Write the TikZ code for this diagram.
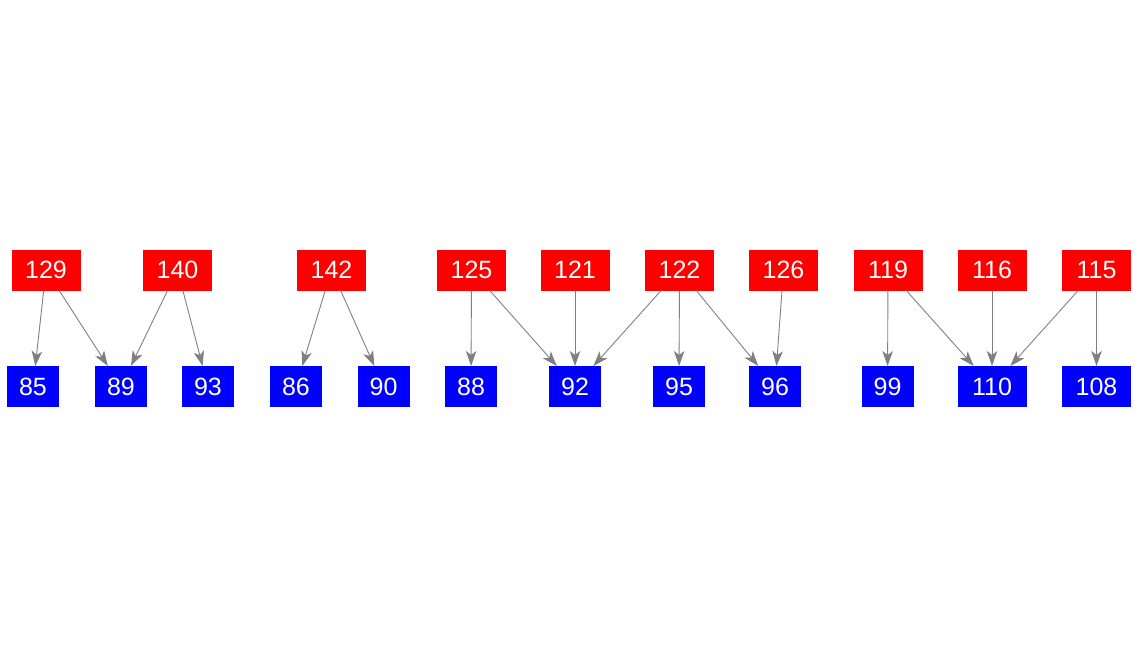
\documentclass[tikz,border=0pt]{standalone}
\usepackage{fontspec}
\setmainfont{Liberation Sans}
\usetikzlibrary{arrows.meta}
\begin{document}
\begin{tikzpicture}[x=1pt,y=-1pt,
  src/.style={fill=red, text=white, minimum width=69pt, minimum height=41pt, inner sep=0pt, outer sep=0pt, font=\fontsize{25}{29}\selectfont},
  dst/.style={fill=blue, text=white, minimum width=52pt, minimum height=41pt, inner sep=0pt, outer sep=0pt, font=\fontsize{25}{29}\selectfont},
  dstw/.style={dst, minimum width=69pt},
  edge/.style={draw=gray, line width=0.9pt, -{Stealth[length=15pt, width=10.5pt, inset=4pt]}}]
\useasboundingbox (0,0) rectangle (1138,656);
% sources
\node[src] (n129) at (46,270) {129};
\node[src] (n140) at (177.5,270) {140};
\node[src] (n142) at (331.5,270) {142};
\node[src] (n125) at (471.5,270) {125};
\node[src] (n121) at (575,270) {121};
\node[src] (n122) at (679.5,270) {122};
\node[src] (n126) at (783.5,270) {126};
\node[src] (n119) at (888,270) {119};
\node[src] (n116) at (992,270) {116};
\node[src] (n115) at (1096.5,270) {115};
% targets
\node[dst] (n85) at (33,386.5) {85};
\node[dst] (n89) at (121,386.5) {89};
\node[dst] (n93) at (208,386.5) {93};
\node[dst] (n86) at (296,386.5) {86};
\node[dst] (n90) at (383.5,386.5) {90};
\node[dst] (n88) at (471,386.5) {88};
\node[dst] (n92) at (575,386.5) {92};
\node[dst] (n95) at (679,386.5) {95};
\node[dst] (n96) at (775,386.5) {96};
\node[dst] (n99) at (887.5,386.5) {99};
\node[dstw] (n110) at (992,386.5) {110};
\node[dstw] (n108) at (1096.5,386.5) {108};
% edges
\draw[edge] (n129) -- (n85);
\draw[edge] (n129) -- (n89);
\draw[edge] (n140) -- (n89);
\draw[edge] (n140) -- (n93);
\draw[edge] (n142) -- (n86);
\draw[edge] (n142) -- (n90);
\draw[edge] (n125) -- (n88);
\draw[edge] (n125) -- (n92);
\draw[edge] (n121) -- (n92);
\draw[edge] (n122) -- (n92);
\draw[edge] (n122) -- (n95);
\draw[edge] (n122) -- (n96);
\draw[edge] (n126) -- (n96);
\draw[edge] (n119) -- (n99);
\draw[edge] (n119) -- (n110);
\draw[edge] (n116) -- (n110);
\draw[edge] (n115) -- (n110);
\draw[edge] (n115) -- (n108);
\end{tikzpicture}
\end{document}
